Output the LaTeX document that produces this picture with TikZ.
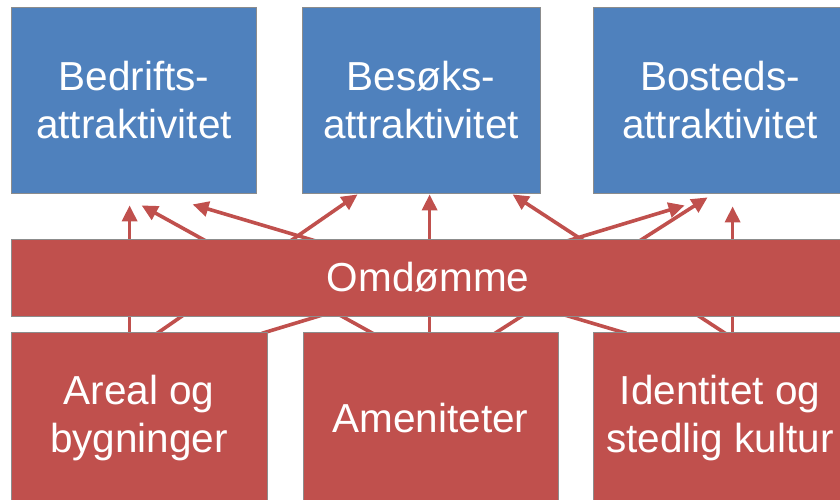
\documentclass[tikz,border=0pt]{standalone}
\usepackage{fontspec}
\setmainfont{Liberation Sans}
\usetikzlibrary{arrows.meta}
\definecolor{boxblue}{RGB}{79,129,189}
\definecolor{boxred}{RGB}{192,80,77}
\definecolor{edgegray}{RGB}{140,140,140}
\pgfdeclarelayer{bg}
\pgfsetlayers{bg,main}
\begin{document}
\begin{tikzpicture}[x=1pt,y=-1pt,
  box/.style={draw=edgegray, line width=0.8pt, text=white, align=center, inner sep=0pt, font=\fontsize{40.5}{48}\selectfont},
  topbox/.style={box, fill=boxblue, minimum height=186pt},
  lowbox/.style={box, fill=boxred, minimum height=172pt},
  arr/.style={draw=boxred, line width=3.6pt, -{Triangle[length=16pt,width=15pt]}, shorten <=-6pt}]
\useasboundingbox (0,0) rectangle (840,499);
\node[topbox, minimum width=245pt] (t1) at (134,100) {Bedrifts-\\attraktivitet};
\node[topbox, minimum width=238pt] (t2) at (421,100) {Besøks-\\attraktivitet};
\node[topbox, minimum width=254pt] (t3) at (720,100) {Bosteds-\\attraktivitet};
\node[box, fill=boxred, minimum width=834pt, minimum height=77pt] (om) at (428,277.5) {Omdømme};
\node[lowbox, minimum width=256pt] (b1) at (139,418) {Areal og\\bygninger};
\node[lowbox, minimum width=255pt] (b2) at (430.5,418) {Ameniteter};
\node[lowbox, minimum width=254pt] (b3) at (720,418) {Identitet og\\stedlig kultur};
\begin{pgfonlayer}{bg}
\draw[arr] ([shift={(119,0)}]b1.north west) -- ([shift={(118.5,12)}]t1.south west);
\draw[arr] ([shift={(149,0)}]b1.north west) -- ([shift={(56,1)}]t2.south west);
\draw[arr] ([shift={(257,0)}]b1.north west) -- ([shift={(92,12)}]t3.south west);
\draw[arr] ([shift={(67,0)}]b2.north west) -- ([shift={(130.5,12)}]t1.south west);
\draw[arr] ([shift={(127,0)}]b2.north west) -- ([shift={(128,1)}]t2.south west);
\draw[arr] ([shift={(195,0)}]b2.north west) -- ([shift={(115,4)}]t3.south west);
\draw[arr] ([shift={(28,0)}]b3.north west) -- ([shift={(181.5,11)}]t1.south west);
\draw[arr] ([shift={(130,0)}]b3.north west) -- ([shift={(211,1)}]t2.south west);
\draw[arr] ([shift={(140,0)}]b3.north west) -- ([shift={(140,13)}]t3.south west);
\end{pgfonlayer}
\end{tikzpicture}
\end{document}
